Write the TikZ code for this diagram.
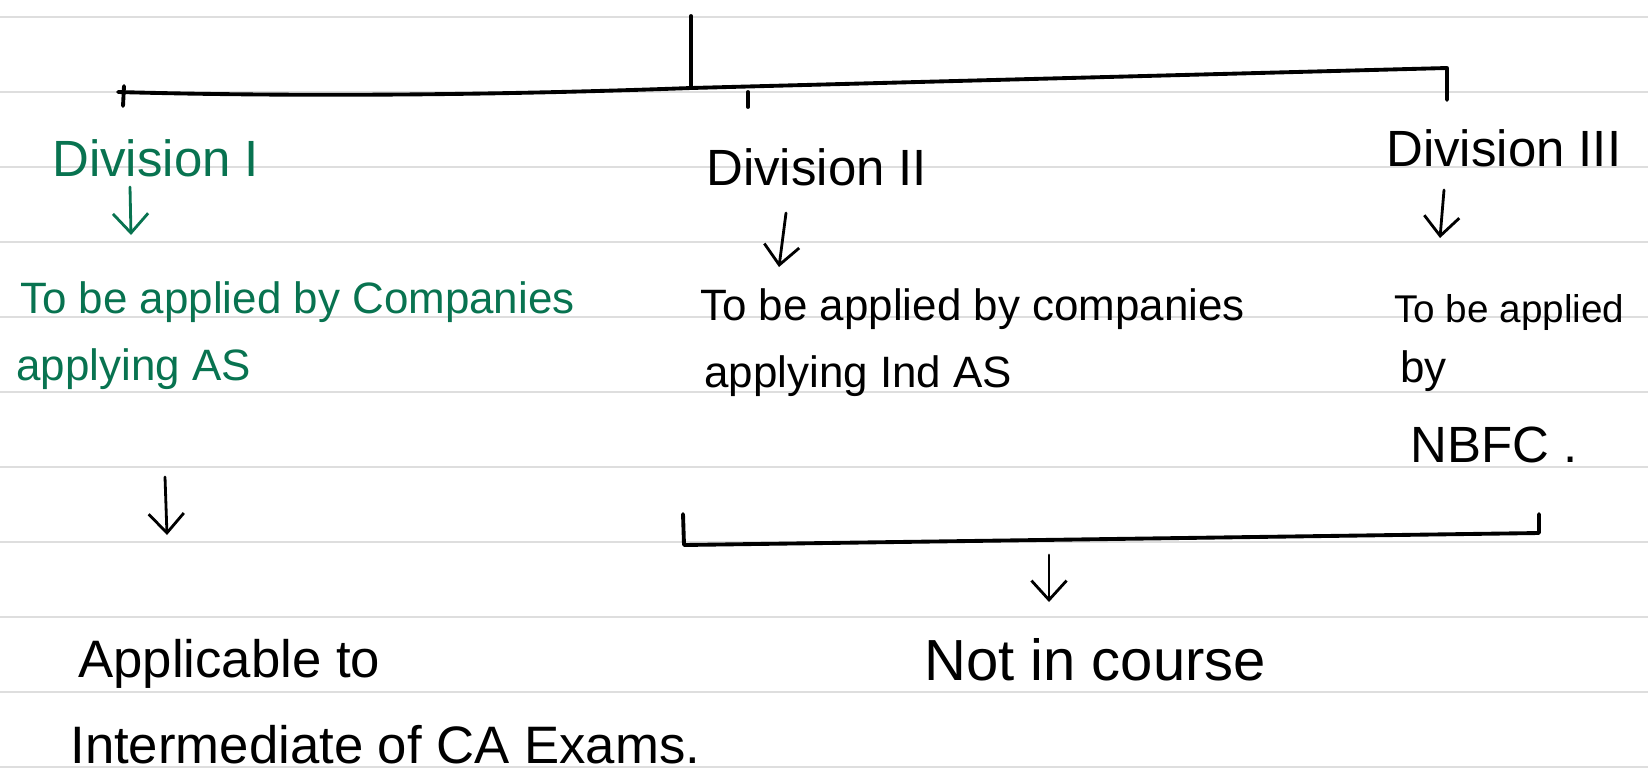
\documentclass[tikz,border=0pt]{standalone}
\usepackage{fontspec}
\setmainfont{Liberation Sans}
\usepackage{xcolor}
\usetikzlibrary{positioning, calc, arrows.meta}
\definecolor{penGreen}{RGB}{8,115,80}
\definecolor{ruleGray}{RGB}{222,222,222}
\tikzset{
  ruled/.style={ruleGray, line width=1.2pt},
  pen/.style={black, line width=2.2pt, line cap=round, line join=round},
  penarrow/.style={pen, line width=1.6pt, -{Straight Barb[length=11pt,width=20pt,line width=1.6pt]}},
  handtext/.style={inner sep=0pt, anchor=base west},
  divtext/.style={handtext, font=\fontsize{29}{34}\selectfont},
  bodytext/.style={handtext, font=\fontsize{25}{30}\selectfont},
  smalltext/.style={handtext, font=\fontsize{22}{26}\selectfont},
  bigtext/.style={handtext, font=\fontsize{30}{36}\selectfont},
}

\begin{document}
\begin{tikzpicture}[x=0.02cm, y=-0.02cm]

    % page background and ruled lines
    \fill[white] (0,0) rectangle (1648,778);
    \useasboundingbox (0,0) rectangle (1648,778);
    \foreach \r in {0,...,10}
        \draw[ruled] (0,17+75*\r) -- (1648,17+75*\r);

    % Main stem and the bar over the three divisions
    \coordinate (stem) at (691,16);
    \coordinate (joint) at (691,88);
    \coordinate (barL) at (118,92);
    \coordinate (barR) at (1447,68);
    \coordinate (endR) at (1447,100);
    \draw[pen] (stem) -- (joint);
    \draw[pen] (barL) .. controls (300,97) and (500,95) .. (joint) -- (barR) -- (endR);
    \draw[pen] (124,86) -- (123,106);
    \draw[pen] (748,92) -- (748,107);

    % Division I (green)
    \node[divtext, penGreen] (div1) at (52,176) {Division I};
    \node[bodytext, penGreen] (app1a) at (20,313) {To be applied by Companies};
    \node[bodytext, penGreen] (app1b) at (16,380) {applying AS};
    \draw[penarrow, penGreen] (div1.base west) ++(78,11) -- ++(1,48);

    % Division II
    \node[divtext] (div2) at (706,185) {Division II};
    \node[bodytext] (app2a) at (700,320) {To be applied by companies};
    \node[bodytext] (app2b) at (704,387) {applying Ind AS};
    \draw[penarrow] (div2.base west) ++(80,28) -- ++(-7,54);

    % Division III
    \node[divtext] (div3) at (1386,166) {Division III};
    \node[smalltext] (app3a) at (1394,322) {To be applied};
    \node[bodytext] (app3b) at (1400,382) {by};
    \node[divtext] (app3c) at (1410,462) {NBFC .};
    \draw[penarrow] (div3.base west) ++(58,24) -- ++(-4,48);

    % Result for Division I
    \node[bigtext] (res1a) at (78,677) {Applicable to};
    \node[bigtext] (res1b) at (70,763) {Intermediate of CA Exams.};
    \draw[penarrow] (app1b.base west) ++(149,97) -- ++(2,58);

    % Bracket joining Division II and III
    \coordinate (brkL) at (683,514);
    \coordinate (brkR) at (1539,514);
    \coordinate (brk) at (1049,540);
    \draw[pen] (brkL) -- (684,545) -- (1539,533) -- (brkR);
    \node[bigtext, font=\fontsize{33}{38}\selectfont] (res2) at (924,680) {Not in course};
    \draw[penarrow] (brk) ++(0,15) -- ++(0,47);

\end{tikzpicture}
\end{document}
